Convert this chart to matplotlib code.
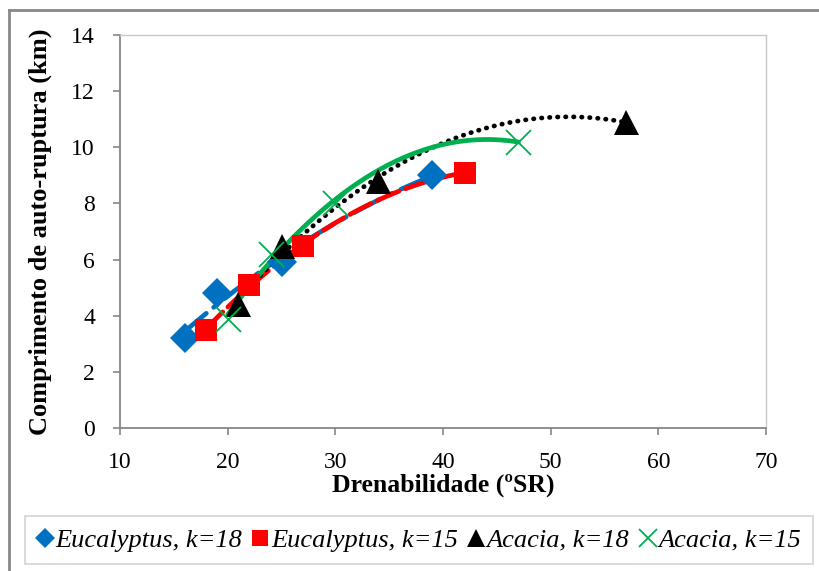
import numpy as np
import matplotlib.pyplot as plt
from matplotlib.lines import Line2D

# drainability (ºSR) and breaking length (km)
euc18_x = [16, 19, 25, 39]
euc18_y = [3.2, 4.8, 5.9, 9.0]
euc15_x = [18, 22, 27, 42]
euc15_y = [3.5, 5.1, 6.5, 9.1]
aca18_x = [21, 25, 34, 57]
aca18_y = [4.4, 6.5, 8.8, 10.9]
aca15_x = [20, 24, 30, 47]
aca15_y = [3.9, 6.2, 8.0, 10.2]

labels = ["Eucalyptus, k=18", "Eucalyptus, k=15", "Acacia, k=18", "Acacia, k=15"]


def main():
    plt.rcParams["font.family"] = ["Liberation Serif", "DejaVu Serif"]
    fig = plt.figure(figsize=(8.19, 5.71), dpi=100)
    ax = fig.add_axes([120 / 819, 1 - 428 / 571, 646 / 819, 393 / 571])

    series = [
        (euc18_x, euc18_y, "#0070C0", "D", 15, (0, (6, 2, 1, 2))),
        (euc15_x, euc15_y, "#FF0000", "s", 15.5, (0, (5, 1.5))),
        (aca18_x, aca18_y, "black", "^", 18, (0, (0.1, 1.6))),
        (aca15_x, aca15_y, "#00B050", "x", 18, "-"),
    ]

    handles = []
    for (x, y, c, m, ms, ls), lab in zip(series, labels):
        # 2nd order polynomial trend line, like Excel
        coef = np.polyfit(x, y, 2)
        xs = np.linspace(min(x), max(x), 200)
        ax.plot(xs, np.polyval(coef, xs), color=c, lw=3.4, linestyle=ls,
                dash_capstyle="round", solid_capstyle="round", zorder=2)
        mew = 1.3 if m == "x" else 0
        ax.plot(x, y, linestyle="none", marker=m, color=c, markersize=ms,
                markeredgewidth=mew, zorder=3)
        handles.append(Line2D([], [], linestyle="none", marker=m, color=c,
                              markersize=ms * 0.7, markeredgewidth=mew,
                              label=lab))

    ax.set_xlim(10, 70)
    ax.set_ylim(0, 14)
    ax.set_xticks(range(10, 71, 10))
    ax.set_yticks(range(0, 15, 2))
    ax.tick_params(direction="out", length=5, width=1.2, color="#868686",
                   labelsize=17)
    ax.tick_params(axis="y", pad=13)
    ax.tick_params(axis="x", pad=12)
    for s in ["left", "bottom"]:
        ax.spines[s].set_color("#868686")
        ax.spines[s].set_linewidth(1.3)
    for s in ["top", "right"]:
        ax.spines[s].set_color("#C8C8C8")
        ax.spines[s].set_linewidth(1)

    ax.set_xlabel("Drenabilidade (ºSR)", fontsize=18.5, fontweight="bold",
                  labelpad=1)
    ax.set_ylabel("Comprimento de auto-ruptura (km)", fontsize=19,
                  fontweight="bold", labelpad=14)

    leg = fig.legend(handles=handles, loc="center",
                     bbox_to_anchor=(419 / 819, 1 - 540 / 571), ncol=4,
                     prop={"style": "italic", "size": 19},
                     handlelength=0.6, handletextpad=0.1, columnspacing=0.4,
                     borderpad=0.45, borderaxespad=0, frameon=True,
                     fancybox=False)
    leg.get_frame().set_edgecolor("#C8C8C8")
    leg.get_frame().set_linewidth(1.2)

    # outer chart frame
    fig.add_artist(Line2D([9 / 819, 9 / 819], [0, 1 - 10 / 571],
                          transform=fig.transFigure, color="#888888", lw=2))
    fig.add_artist(Line2D([9 / 819, 1], [1 - 10 / 571, 1 - 10 / 571],
                          transform=fig.transFigure, color="#888888", lw=2))

    fig.savefig("out.png", dpi=100)


if __name__ == "__main__":
    main()
